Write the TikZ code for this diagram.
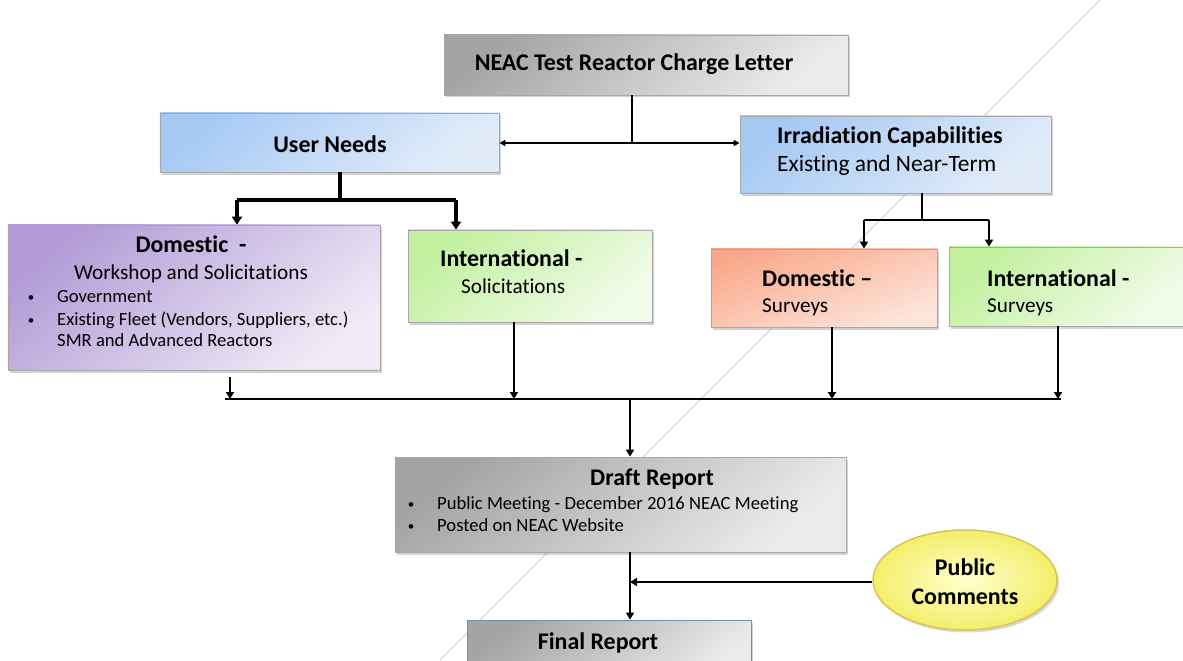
\documentclass[tikz,border=0pt]{standalone}
\usepackage{fontspec}
\setmainfont{Carlito}[Ligatures={NoCommon}]
\usetikzlibrary{shadows,arrows.meta,shapes.geometric}
\definecolor{grayA}{HTML}{A4A4A4}
\definecolor{grayB}{HTML}{EBEBEB}
\definecolor{blueA}{HTML}{A6C9F4}
\definecolor{blueB}{HTML}{E2ECF9}
\definecolor{purA}{HTML}{B39CD6}
\definecolor{purB}{HTML}{EFEAF6}
\definecolor{grnA}{HTML}{C2F09E}
\definecolor{grnB}{HTML}{F1FBE9}
\definecolor{orA}{HTML}{F9A98B}
\definecolor{orB}{HTML}{FDE5DC}
\definecolor{yelA}{HTML}{FFFFCC}
\definecolor{yelB}{HTML}{F3EE6A}
\definecolor{edgec}{HTML}{A8A8A8}
\definecolor{fedge}{HTML}{6F8FB8}
\definecolor{pedge}{HTML}{D9C45A}
\begin{document}
\begin{tikzpicture}[x=1bp,y=-1bp,
  box/.style={draw=edgec, line width=0.8bp, inner sep=0pt,
    drop shadow={shadow xshift=2bp, shadow yshift=-2.5bp, opacity=0.35}},
  graybox/.style={box, top color=grayA, bottom color=grayB, shading angle=40},
  bluebox/.style={box, top color=blueA, bottom color=blueB, shading angle=40},
  purbox/.style={box, top color=purA, bottom color=purB, shading angle=40},
  grnbox/.style={box, top color=grnA, bottom color=grnB, shading angle=40},
  orbox/.style={box, top color=orA, bottom color=orB, shading angle=20},
  ttl/.style={font=\fontsize{24}{28}\selectfont\bfseries, inner sep=0pt},
  sub/.style={font=\fontsize{21.3}{25}\selectfont, inner sep=0pt},
  sml/.style={font=\fontsize{18.7}{22}\selectfont, inner sep=0pt},
  bul/.style={font=\fontsize{13}{16}\selectfont, inner sep=0pt},
  ln/.style={line width=2bp},
  thk/.style={line width=3.5bp},
  mid/.style={line width=2.5bp},
  tip/.style={-{Triangle[length=7bp,width=8bp]}},
  tipb/.style={-{Triangle[length=8bp,width=10bp]}},
  tips/.style={{Triangle[length=6bp,width=6bp]}-{Triangle[length=6bp,width=6bp]}}
]
\useasboundingbox (0,0) rectangle (1183,661);
\fill[white] (0,0) rectangle (1183,661);
% faint diagonal fold line
\draw[gray!30, line width=1.2bp] (440,660) -- (1100,0);

% boxes
\node[graybox, minimum width=404bp, minimum height=60bp] (neac) at (646,65) {};
\node[bluebox, minimum width=339bp, minimum height=59bp] (un) at (329.5,142.5) {};
\node[bluebox, minimum width=311bp, minimum height=77bp] (irr) at (895.5,154.5) {};
\node[purbox, minimum width=372bp, minimum height=145bp] (dom) at (194,297.5) {};
\node[grnbox, minimum width=244bp, minimum height=92bp] (intl) at (530,276) {};
\node[orbox, minimum width=226bp, minimum height=78bp] (doms) at (824,288) {};
\node[grnbox, minimum width=234bp, minimum height=79bp] (ints) at (1066,286.5) {};
\node[graybox, minimum width=451bp, minimum height=95bp] (draft) at (620.5,504.5) {};
\node[graybox, draw=fedge, minimum width=284bp, minimum height=60bp] (final) at (609,650) {};
\node[ellipse, draw=pedge, line width=1.5bp, inner color=yelA, outer color=yelB,
  minimum width=184bp, minimum height=100bp,
  drop shadow={shadow xshift=2bp, shadow yshift=-2.5bp, opacity=0.3}] (pc) at (965,580) {};

% texts
\node[ttl, anchor=base] (t1) at (634,71) {NEAC Test Reactor Charge Letter};
\node[ttl, anchor=base] (t2) at (330,153) {User Needs};
\node[ttl, anchor=base west] (t3) at (777,144) {Irradiation Capabilities};
\node[sub, font=\fontsize{23.5}{27}\selectfont, anchor=base west] (t4) at (777,172) {Existing and Near-Term};
\node[ttl, anchor=base] (t5) at (191,252) {Domestic\ \ -};
\node[sub, anchor=base] (t6) at (191,279) {Workshop and Solicitations};
\node[bul, anchor=base] (b1) at (31,301) {\textbullet};
\node[sml, anchor=base west] (t7) at (57,302) {Government};
\node[bul, anchor=base] (b2) at (31,324) {\textbullet};
\node[sml, anchor=base west] (t8) at (57,325) {Existing Fleet (Vendors, Suppliers, etc.)};
\node[sml, anchor=base west] (t9) at (57,346) {SMR and Advanced Reactors};
\node[ttl, anchor=base west] (t10) at (440,266) {International -};
\node[sub, anchor=base west] (t11) at (461,293) {Solicitations};
\node[ttl, anchor=base west] (t12) at (762,286) {Domestic –};
\node[sub, anchor=base west] (t13) at (762,312) {Surveys};
\node[ttl, anchor=base west] (t14) at (987,286) {International -};
\node[sub, anchor=base west] (t15) at (987,312) {Surveys};
\node[ttl, anchor=base] (t16) at (652,485) {Draft Report};
\node[bul, anchor=base] (b3) at (411,508) {\textbullet};
\node[sml, anchor=base west] (t17) at (437,509) {Public Meeting - December 2016 NEAC Meeting};
\node[bul, anchor=base] (b4) at (411,530) {\textbullet};
\node[sml, anchor=base west] (t18) at (437,531) {Posted on NEAC Website};
\node[ttl, anchor=base] (t19) at (965,575) {Public};
\node[ttl, anchor=base] (t20) at (965,604) {Comments};
\node[ttl, anchor=base] (t21) at (598,649) {Final Report};

% junction coordinates
\coordinate (j1) at (632,143);
\coordinate (j2) at (340,200);
\coordinate (j2a) at (237,200);
\coordinate (j2b) at (456,200);
\coordinate (j3) at (922,220);
\coordinate (j3a) at (864,220);
\coordinate (j3b) at (989,220);
\coordinate (c1) at (230,399);
\coordinate (c2) at (514,399);
\coordinate (c3) at (832,399);
\coordinate (c4) at (1058,399);
\coordinate (cm) at (630,399);
\coordinate (j4) at (630,582);

% connectors
\draw[ln] (j1 |- neac.south) -- (j1);
\draw[ln, tips] (un.east |- j1) -- (irr.west |- j1);

\draw[thk] (j2 |- un.south) -- (j2);
\draw[thk] (j2a) -- (j2b);
\draw[thk, tipb] (j2a) -- (j2a |- dom.north);
\draw[thk, tipb] (j2b) -- (j2b |- intl.north);

\draw[mid] (j3 |- irr.south) -- (j3);
\draw[mid] (j3a) -- (j3b);
\draw[mid, tip] (j3a) -- (j3a |- doms.north);
\draw[mid, tip] (j3b) -- (j3b |- ints.north);

\draw[mid, tip] (230,377) -- (c1);
\draw[mid, tip] (c2 |- intl.south) -- (c2);
\draw[mid, tip] (c3 |- doms.south) -- (c3);
\draw[mid, tip] (c4 |- ints.south) -- (c4);
\draw[mid] ([xshift=-5bp]c1) -- ([xshift=3bp]c4);
\draw[mid, tip] (cm) -- (cm |- draft.north);

\draw[mid, tip] (cm |- draft.south) -- (cm |- final.north);
\draw[mid, tip] (pc.west |- j4) -- (j4);
\end{tikzpicture}
\end{document}
